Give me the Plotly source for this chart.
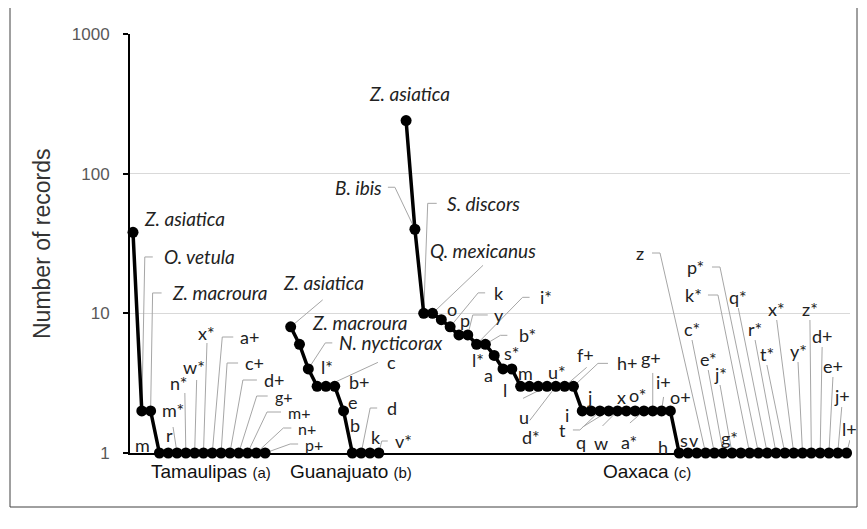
import math
import plotly.graph_objects as go

# ---------------- data ----------------
region_names = ["Tamaulipas", "Guanajuato", "Oaxaca"]
region_tags = ["(a)", "(b)", "(c)"]

tam_labels = ["Z. asiatica", "O. vetula", "Z. macroura", "m", "m*", "r", "n*", "w*",
              "x*", "a+", "c+", "d+", "g+", "m+", "n+", "p+"]
tam_values = [38, 2, 2, 1, 1, 1, 1, 1, 1, 1, 1, 1, 1, 1, 1, 1]

gua_labels = ["Z. asiatica", "Z. macroura", "N. nycticorax", "l*", "c", "b+", "e",
              "b", "d", "k", "v*"]
gua_values = [8, 6, 4, 3, 3, 3, 2, 1, 1, 1, 1]

oax_labels = ["Z. asiatica", "B. ibis", "S. discors", "Q. mexicanus", "o", "k", "p",
              "y", "i*", "b*", "l*", "s*", "a", "m", "l", "u*", "u", "d*", "f+", "h+",
              "j", "i", "t", "q", "w", "x", "o*", "a*", "g+", "i+", "o+", "h", "s",
              "v", "z", "c*", "e*", "j*", "g*", "k*", "p*", "q*", "r*", "t*", "x*",
              "y*", "z*", "d+", "e+", "j+", "l+"]
oax_values = [240, 40, 10, 10, 9, 8, 7, 7, 6, 6, 5, 4, 4,
              3, 3, 3, 3, 3, 3, 3,
              2, 2, 2, 2, 2, 2, 2, 2, 2, 2, 2,
              1, 1, 1, 1, 1, 1, 1, 1, 1, 1, 1, 1, 1, 1, 1, 1, 1, 1, 1, 1]

y_tick_values = [1, 10, 100, 1000]
y_tick_labels = ["1", "10", "100", "1000"]
y_title = "Number of records"

# ---------------- layout constants ----------------
PAGE_OFF = 8                      # browser body margin
VIEW_W, VIEW_H = 867, 529
PL, PT = 130, 34                  # plot area top-left in screen pixels
PLOT_W, PLOT_H = 720, 419
W, H = VIEW_W - PAGE_OFF, VIEW_H - PAGE_OFF
M_L, M_T = PL - PAGE_OFF, PT - PAGE_OFF
M_R = W - M_L - PLOT_W
M_B = H - M_T - PLOT_H
X_MIN, X_MAX = -0.34, 81.39
GROUP_START = [0.0, 17.9, 31.0]
PXX = PLOT_W / (X_MAX - X_MIN)
PXY = PLOT_H / 3.0

FONT_FAMILY = "Lato, Carlito, Calibri, sans-serif"
LABEL_SIZE = 18
SPECIES_SIZE = 19
DENSE_SIZE = 16
LABEL_COLOR = "#222222"
LEADER_COLOR = "#a6a6a6"

# label placement (pixel offsets from each point)
tam_place = [
    ("t", 9, -14, "l"), ("hr", 3, -154, 8, 9), ("hr", 2, -118, 9, 8),
    ("t", -17, -8, "c"), ("t", 5, -43, "c"), ("ln", -4, -26, -8, -18),
    ("ln", -1, -60, -7, -70), ("ln", 2, -73, -1, -86), ("ln", 3.5, -110, 3.5, -120),
    ("hr", 10, -116, 11, 5), ("hr", 6, -90, 11, 5), ("hr", 13, -73, 14, 5),
    ("hr", 18, -57, 11, 5), ("hr", 19.5, -41, 14, 5), ("hr", 27, -25, 8, 5),
    ("hr", 25, -9, 8, 5),
]
tam_dense = [12, 13, 14, 15]      # tightly stacked labels drawn slightly smaller
gua_place = [
    ("ln", 32, -27, 33, -44), ("t", 10.5, -22, "l"), ("hr", 17, -26, 7, 5),
    ("t", 10, -19, "c"), ("lnl", 52, -24, 59, -24), ("t", 12, -4, "l"),
    ("t", 9.5, -9, "c"), ("t", 3, -28, "c"), ("hr", 9, -45, 7, 8),
    ("t", 6, -16, "c"), ("hr", 3, -12, 6, 5),
]
oax_place = [
    ("t", 3, -27, "c"), ("hl", -20, -42, 7, 4), ("hr", 4, -110, 9, 8),
    ("ln", 50.5, -48, 50.5, -63), ("t", 11, -11, "c"), ("hr", 28, -34, 7, 7),
    ("t", 6, -15, "c"), ("hr", 5, -20, 15, 4), ("hr", 46, -47, 7, 8),
    ("hr", 15, -9, 7, 10), ("t", -16, 5, "c"), ("t", 9, -16, "c"),
    ("t", -23, 6, "c"), ("t", 4.5, -13, "c"), ("t", -24, 4, "c"),
    ("t", 19, -14, "c"), ("ln", -24, 12, -23, 31), ("ln", -26, 34, -25, 51),
    ("ln", 22, -19, 21, -31), ("hr", 24.5, -23, 10, 7), ("t", 7, -14, "c"),
    ("t", -24, 4, "c"), ("hl", -20, 19, 7, 5), ("ln", -26, 16, -28, 31),
    ("ln", -15, 15, -16.5, 32), ("t", -5, -14, "c"), ("t", 2, -16, "c"),
    ("ln", -14, 12, -15, 31), ("ln", 0, -38, -2, -53), ("ln", 2, -14, 2, -29),
    ("t", 10.6, -14, "c"), ("t", -16, -6, "c"), ("t", -4, -13, "c"),
    ("t", -3, -13, "c"), ("hl", -45.6, -200, 8, 6), ("up", -22.4, -113),
    ("up", -15, -83), ("up", -12, -68), ("t", -11, -15, "c"),
    ("hl", -31.7, -158, 10, 4), ("hl", -38.5, -186, 8, 6), ("up", -29, -145),
    ("up", -21, -113), ("up", -18, -88), ("up", -17, -133), ("up", -4.5, -91),
    ("up", -1.4, -133), ("up", 2, -106), ("up", 4, -76), ("up", 4, -46),
    ("up", 3.4, -13),
]

groups = [
    (tam_labels, tam_values, tam_place, tam_dense),
    (gua_labels, gua_values, gua_place, []),
    (oax_labels, oax_values, oax_place, []),
]


def resolve(spec):
    kind = spec[0]
    if kind == "t":
        _, dx, dy, anc = spec
        return [], (dx, dy, anc)
    if kind == "hr":
        _, bx, by, hook, gap = spec
        return [(bx, by), (bx + hook, by)], (bx + hook + gap, by, "l")
    if kind == "hl":
        _, bx, by, hook, gap = spec
        return [(bx, by), (bx - hook, by)], (bx - hook - gap, by, "r")
    if kind == "up":
        _, lx, ly = spec
        return [(lx, ly)], (lx, ly - 11, "c")
    if kind == "ln":
        _, lx, ly, tx, ty = spec
        return [(lx, ly)], (tx, ty, "c")
    if kind == "lnl":
        _, lx, ly, tx, ty = spec
        return [(lx, ly)], (tx, ty, "l")
    raise ValueError(kind)


anchor_map = {"l": "left", "c": "center", "r": "right"}


def sx(px):
    return (px - PL) / PLOT_W


def sy(py):
    return 1 - (py - PT) / PLOT_H


fig = go.Figure()
annotations = []
lead_x, lead_y = [], []
series_traces = []

for gi, (labels, values, places, dense) in enumerate(groups):
    xs = [GROUP_START[gi] + i for i in range(len(values))]
    series_traces.append(go.Scatter(
        x=xs, y=values, mode="lines+markers", name=region_names[gi],
        line=dict(color="black", width=3.5),
        marker=dict(color="black", size=11),
        cliponaxis=False, hoverinfo="skip", showlegend=False,
    ))
    for i, (x, v, lab, spec) in enumerate(zip(xs, values, labels, places)):
        pts, (tx, ty, anc) = resolve(spec)
        if pts:
            lead_x.append(x)
            lead_y.append(v)
            for dx, dy in pts:
                lead_x.append(x + dx / PXX)
                lead_y.append(v * 10 ** (-dy / PXY))
            lead_x.append(None)
            lead_y.append(None)
        species = ". " in lab
        text = f"<i>{lab}</i>" if species else lab
        size = SPECIES_SIZE if species else (DENSE_SIZE if i in dense else LABEL_SIZE)
        annotations.append(dict(
            x=x, y=math.log10(v), xref="x", yref="y", text=text,
            showarrow=False, xshift=tx, yshift=-ty,
            xanchor=anchor_map[anc], yanchor="middle",
            font=dict(family=FONT_FAMILY, size=size, color=LABEL_COLOR),
        ))

fig.add_trace(go.Scatter(
    x=lead_x, y=lead_y, mode="lines", line=dict(color=LEADER_COLOR, width=1),
    cliponaxis=False, hoverinfo="skip", showlegend=False,
))
for t in series_traces:
    fig.add_trace(t)

# region labels below the axis
region_px = [211, 351, 647]
for name, tag, px in zip(region_names, region_tags, region_px):
    annotations.append(dict(
        x=sx(px), y=sy(471), xref="paper", yref="paper", showarrow=False,
        text=f"{name} <span style='font-size:15px'>{tag}</span>",
        font=dict(family="Liberation Sans Narrow, Liberation Sans, Arial, sans-serif",
                  size=19, color="#111111"),
        xanchor="center", yanchor="middle",
    ))

# y-axis title
annotations.append(dict(
    x=sx(42), y=sy(244), xref="paper", yref="paper", showarrow=False,
    text=y_title, textangle=-90,
    font=dict(family="Liberation Sans, Arial, sans-serif", size=23, color="#333333"),
    xanchor="center", yanchor="middle",
))

fig.update_layout(
    width=W, height=H, autosize=False,
    margin=dict(l=M_L, r=M_R, t=M_T, b=M_B, pad=0),
    paper_bgcolor="white", plot_bgcolor="white",
    annotations=annotations,
    shapes=[dict(
        type="rect", xref="paper", yref="paper",
        x0=sx(10), x1=sx(857), y0=sy(507), y1=sy(5),
        line=dict(color="#404040", width=1), layer="below",
    )],
    xaxis=dict(
        range=[X_MIN, X_MAX], showgrid=False, zeroline=False,
        showticklabels=False, ticks="", showline=True, linecolor="black",
        linewidth=2, layer="below traces",
    ),
    yaxis=dict(
        type="log", range=[0, 3], tickvals=y_tick_values, ticktext=y_tick_labels,
        showgrid=True, gridcolor="#d9d9d9", gridwidth=1, zeroline=False,
        showline=True, linecolor="black", linewidth=2, ticks="outside",
        ticklen=5, tickwidth=2, tickcolor="black", ticklabelstandoff=10,
        tickfont=dict(family="Liberation Sans, Arial, sans-serif", size=17,
                      color="#595959"),
        layer="below traces",
    ),
)

fig.write_html("out.html")
